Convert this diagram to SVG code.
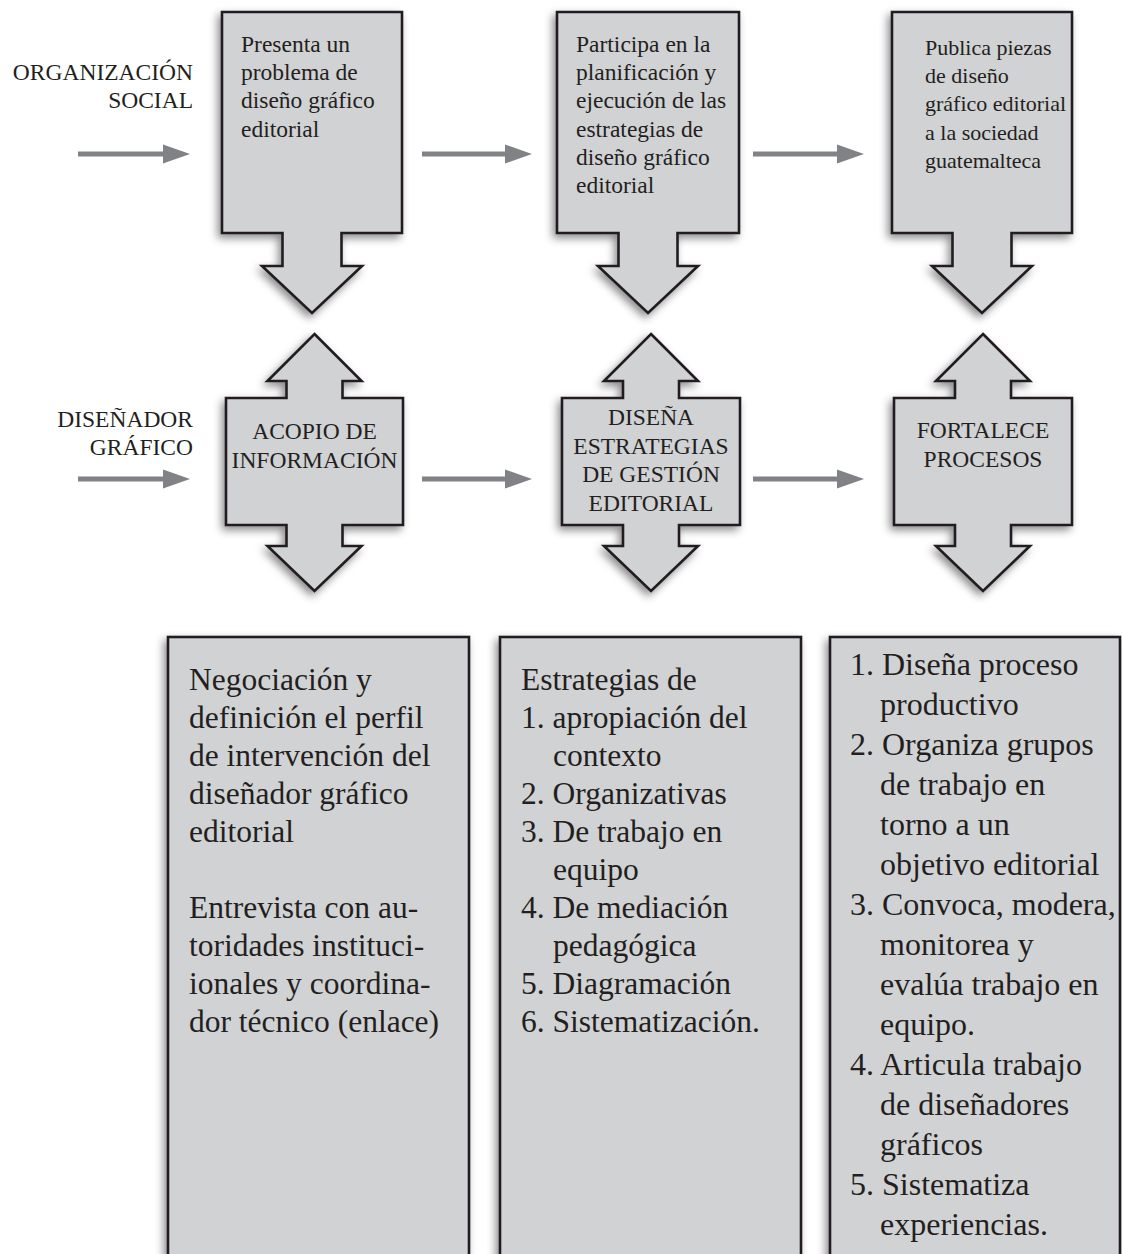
<svg xmlns="http://www.w3.org/2000/svg" width="1122" height="1254" viewBox="0 0 1122 1254">
<defs>
<style>
.shape{fill:#d1d2d4;stroke:#231f20;stroke-width:2.6;stroke-linejoin:miter;filter:url(#sh)}
.t{font-family:"Liberation Serif","Times New Roman",serif;fill:#231f20}
.s{font-size:23.5px}
.s3{font-size:22px}
.m{font-size:23.5px;text-anchor:middle}
.lab{font-size:23.5px;text-anchor:end}
.b{font-size:31.5px}
.b3{font-size:32px}
.conn{stroke:#808285;stroke-width:5;fill:none;marker-end:url(#ah)}
</style>
<filter id="sh" x="-20%" y="-20%" width="140%" height="140%">
<feDropShadow dx="-3" dy="4" stdDeviation="4.5" flood-color="#000" flood-opacity="0.45"/>
</filter>
<marker id="ah" markerUnits="userSpaceOnUse" markerWidth="28" markerHeight="20" refX="0" refY="10" orient="auto">
<path d="M0,0.5 L27,10 L0,19.5 Z" fill="#808285"/>
</marker>
</defs>
<rect width="1122" height="1254" fill="#ffffff"/>

<g id="label-organizacion" class="t lab">
<text x="193" y="80">ORGANIZACIÓN</text>
<text x="193" y="108">SOCIAL</text>
</g>
<g id="label-disenador" class="t lab">
<text x="193" y="427">DISEÑADOR</text>
<text x="193" y="455">GRÁFICO</text>
</g>

<g id="connectors">
<line class="conn" x1="78" y1="154" x2="163" y2="154"/>
<line class="conn" x1="422" y1="154" x2="505" y2="154"/>
<line class="conn" x1="753" y1="154" x2="837" y2="154"/>
<line class="conn" x1="78" y1="479" x2="163" y2="479"/>
<line class="conn" x1="422" y1="479" x2="505" y2="479"/>
<line class="conn" x1="753" y1="479" x2="837" y2="479"/>
</g>

<g id="node-presenta">
<path class="shape" d="M222,12 H402 V233 H341.5 V266 H362 L312,313 L262,266 H282.5 V233 H222 Z"/>
<text class="t s"><tspan x="241" y="52">Presenta un</tspan><tspan x="241" y="80">problema de</tspan><tspan x="241" y="108">diseño gráfico</tspan><tspan x="241" y="137">editorial</tspan></text>
</g>
<g id="node-participa">
<path class="shape" d="M557,12 H739 V233 H677.5 V266 H698 L648,313 L598,266 H618.5 V233 H557 Z"/>
<text class="t s"><tspan x="576" y="52">Participa en la</tspan><tspan x="576" y="80">planificación y</tspan><tspan x="576" y="108">ejecución de las</tspan><tspan x="576" y="137">estrategias de</tspan><tspan x="576" y="165">diseño gráfico</tspan><tspan x="576" y="193">editorial</tspan></text>
</g>
<g id="node-publica">
<path class="shape" d="M892,12 H1072 V233 H1011.5 V266 H1032 L982,313 L932,266 H952.5 V233 H892 Z"/>
<text class="t s3"><tspan x="925" y="55">Publica piezas</tspan><tspan x="925" y="83">de diseño</tspan><tspan x="925" y="111">gráfico editorial</tspan><tspan x="925" y="140">a la sociedad</tspan><tspan x="925" y="168">guatemalteca</tspan></text>
</g>

<g id="node-acopio">
<path class="shape" d="M314.5,334 L361.5,381 H342.5 V398 H403 V525 H342.5 V546 H361.5 L314.5,591 L267.5,546 H286.5 V525 H226 V398 H286.5 V381 H267.5 Z"/>
<text class="t m"><tspan x="314.5" y="439">ACOPIO DE</tspan><tspan x="314.5" y="468">INFORMACIÓN</tspan></text>
</g>
<g id="node-disena">
<path class="shape" d="M651,334 L698,381 H679 V398 H740 V525 H679 V546 H698 L651,591 L604,546 H623 V525 H562 V398 H623 V381 H604 Z"/>
<text class="t m"><tspan x="651" y="425">DISEÑA</tspan><tspan x="651" y="453.5">ESTRATEGIAS</tspan><tspan x="651" y="482">DE GESTIÓN</tspan><tspan x="651" y="510.5">EDITORIAL</tspan></text>
</g>
<g id="node-fortalece">
<path class="shape" d="M983,334 L1030,381 H1011 V398 H1072 V525 H1011 V546 H1030 L983,591 L936,546 H955 V525 H894 V398 H955 V381 H936 Z"/>
<text class="t m"><tspan x="983" y="438">FORTALECE</tspan><tspan x="983" y="467">PROCESOS</tspan></text>
</g>

<g id="node-negociacion">
<rect class="shape" x="168" y="637" width="301" height="640"/>
<text class="t b"><tspan x="189" y="690">Negociación y</tspan><tspan x="189" y="728">definición el perfil</tspan><tspan x="189" y="766">de intervención del</tspan><tspan x="189" y="804">diseñador gráfico</tspan><tspan x="189" y="842">editorial</tspan><tspan x="189" y="918">Entrevista con au-</tspan><tspan x="189" y="956">toridades instituci-</tspan><tspan x="189" y="994">ionales y coordina-</tspan><tspan x="189" y="1032">dor técnico (enlace)</tspan></text>
</g>
<g id="node-estrategias">
<rect class="shape" x="500" y="637" width="301" height="640"/>
<text class="t b"><tspan x="521" y="690">Estrategias de</tspan><tspan x="521" y="728">1. apropiación del</tspan><tspan x="553" y="766">contexto</tspan><tspan x="521" y="804">2. Organizativas</tspan><tspan x="521" y="842">3. De trabajo en</tspan><tspan x="553" y="880">equipo</tspan><tspan x="521" y="918">4. De mediación</tspan><tspan x="553" y="956">pedagógica</tspan><tspan x="521" y="994">5. Diagramación</tspan><tspan x="521" y="1032">6. Sistematización.</tspan></text>
</g>
<g id="node-procesos">
<rect class="shape" x="830" y="637" width="290" height="640"/>
<text class="t b3"><tspan x="850" y="675">1. Diseña proceso</tspan><tspan x="880" y="715">productivo</tspan><tspan x="850" y="755">2. Organiza grupos</tspan><tspan x="880" y="795">de trabajo en</tspan><tspan x="880" y="835">torno a un</tspan><tspan x="880" y="875">objetivo editorial</tspan><tspan x="850" y="915">3. Convoca, modera,</tspan><tspan x="880" y="955">monitorea y</tspan><tspan x="880" y="995">evalúa trabajo en</tspan><tspan x="880" y="1035">equipo.</tspan><tspan x="850" y="1075">4. Articula trabajo</tspan><tspan x="880" y="1115">de diseñadores</tspan><tspan x="880" y="1155">gráficos</tspan><tspan x="850" y="1195">5. Sistematiza</tspan><tspan x="880" y="1235">experiencias.</tspan></text>
</g>
</svg>
